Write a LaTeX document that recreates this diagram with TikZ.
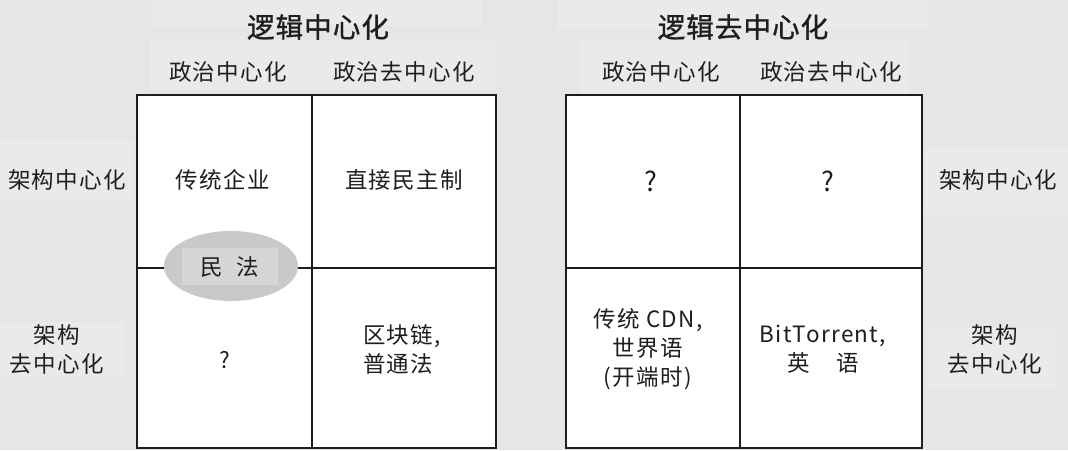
\documentclass[tikz,border=0pt]{standalone}
\usepackage{fontspec}
\setmainfont{Noto Sans CJK SC}[LetterSpace=6]
\newfontfamily\titlefont{Noto Sans CJK SC}[FakeBold=1.2,LetterSpace=4]
\usetikzlibrary{shapes.geometric}
\definecolor{bg}{HTML}{E6E6E6}
\definecolor{patch}{HTML}{EAEAEA}
\definecolor{ellfill}{HTML}{C9C9C9}
\definecolor{ellinner}{HTML}{D6D6D6}
\definecolor{ink}{HTML}{1E1E1E}
\tikzset{
  lbl/.style={font=\fontsize{22.5}{29}\selectfont, text=ink, align=center, inner sep=0pt},
  qmark/.style={font=\fontsize{27}{30}\selectfont, text=ink, inner sep=0pt},
  ttl/.style={font=\titlefont\fontsize{27.5}{30}\selectfont, text=ink, inner sep=0pt},
  gridline/.style={draw=ink, line width=2pt},
  cellbox/.style={fill=white},
  patchbox/.style={fill=patch, draw=none},
}
\begin{document}
\begin{tikzpicture}[x=1pt,y=-1pt]
\fill[bg] (0,0) rectangle (1068,450);
\useasboundingbox (0,0) rectangle (1068,450);
% light patches behind labels
\fill[patchbox] (153,0) rectangle (482,26);
\fill[patchbox] (150,40) rectangle (495,90);
\fill[patchbox] (0,140) rectangle (133,200);
\fill[patchbox] (0,322) rectangle (125,377);
\fill[patchbox] (558,0) rectangle (929,30);
\fill[patchbox] (580,40) rectangle (909,94);
\fill[patchbox] (924,148) rectangle (1068,215);
\fill[patchbox] (926,327) rectangle (1055,388);
% left grid
\fill[cellbox] (137,95) rectangle (496,448);
\coordinate (LT) at (312,95);
\coordinate (LB) at (312,448);
\coordinate (LL) at (137,268);
\coordinate (LR) at (496,268);
\draw[gridline] (LT) -- (LB);
\draw[gridline] (LL) -- (LR);
\draw[gridline] (137,95) rectangle (496,448);
% right grid
\fill[cellbox] (566,95) rectangle (922,448);
\coordinate (RT) at (740,95);
\coordinate (RB) at (740,448);
\coordinate (RL) at (566,268);
\coordinate (RR) at (922,268);
\draw[gridline] (RT) -- (RB);
\draw[gridline] (RL) -- (RR);
\draw[gridline] (566,95) rectangle (922,448);
% ellipse 民法
\node[ellipse, fill=ellfill, minimum width=134pt, minimum height=70pt, inner sep=0pt] (minfa) at (231,266) {};
\fill[ellinner] (182,248) rectangle (278,285);
\node[lbl] (minfat) at (230,267) {民\hspace{0.6em}法};
% titles
\node[ttl] (t1) at (318,27) {逻辑中心化};
\node[ttl] (t2) at (743,27) {逻辑去中心化};
% column headers
\node[lbl] (h1) at (228,72) {政治中心化};
\node[lbl] (h2) at (404,72) {政治去中心化};
\node[lbl] (h3) at (661,72) {政治中心化};
\node[lbl] (h4) at (831,72) {政治去中心化};
% row headers
\node[lbl] (r1) at (67,180) {架构中心化};
\node[lbl] (r2) at (57,349) {架构\\去中心化};
\node[lbl] (r3) at (998,180) {架构中心化};
\node[lbl] (r4) at (995,349) {架构\\去中心化};
% left cells
\node[lbl] (c11) at (223,180) {传统企业};
\node[lbl] (c12) at (404,180) {直接民主制};
\node[lbl] (c21) at (225,360) {?};
\node[lbl, align=left] (c22) at (402,349) {区块链,\\普通法};
% right cells
\node[qmark] (d11) at (651,181) {?};
\node[qmark] (d12) at (828,181) {?};
\node[lbl] (d21) at (648,349) {传统 CDN,\\世界语\\(开端时)};
\node[lbl] (d22) at (823,349) {BitTorrent,\\英\hspace{1.2em}语};
\end{tikzpicture}
\end{document}
